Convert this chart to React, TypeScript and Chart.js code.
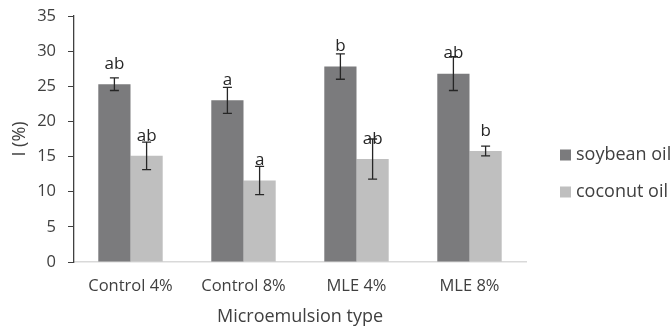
import { useEffect, useRef } from "react";
import { Chart, registerables } from "chart.js";

Chart.register(...registerables);

const categories = ["Control 4%", "Control 8%", "MLE 4%", "MLE 8%"];
const seriesNames = ["soybean oil", "coconut oil"];
const soybean = [25.3, 23.0, 27.8, 26.8];
const soybeanErr = [0.9, 1.85, 1.8, 2.4];
const coconut = [15.1, 11.6, 14.65, 15.8];
const coconutErr = [1.95, 2.0, 2.85, 0.7];
const soybeanLetters = ["ab", "a", "b", "ab"];
const coconutLetters = ["ab", "a", "ab", "b"];
const yMin = 0;
const yMax = 35;
const yStep = 5;

const colors = ["#7b7b7d", "#bfbfbf"];
const FONT = "'Open Sans', 'DejaVu Sans', sans-serif";

export default function App() {
  const ref = useRef<HTMLCanvasElement | null>(null);

  useEffect(() => {
    document.body.style.margin = "0";
    const errs = [soybeanErr, coconutErr];
    const letters = [soybeanLetters, coconutLetters];

    const annot = {
      id: "annot",
      afterDatasetsDraw(chart: any) {
        const ctx = chart.ctx;
        const ys = chart.scales.y;
        ctx.save();
        chart.data.datasets.forEach((ds: any, di: number) => {
          const meta = chart.getDatasetMeta(di);
          meta.data.forEach((el: any, i: number) => {
            const v = ds.data[i];
            const e = errs[di][i];
            const x = el.x;
            const yt = ys.getPixelForValue(v + e);
            const yb = ys.getPixelForValue(v - e);
            ctx.strokeStyle = "#262626";
            ctx.lineWidth = 1.3;
            ctx.beginPath();
            ctx.moveTo(x, yt);
            ctx.lineTo(x, yb);
            ctx.moveTo(x - 4.5, yt);
            ctx.lineTo(x + 4.5, yt);
            ctx.moveTo(x - 4.5, yb);
            ctx.lineTo(x + 4.5, yb);
            ctx.stroke();
          });
        });
        chart.data.datasets.forEach((ds: any, di: number) => {
          const meta = chart.getDatasetMeta(di);
          meta.data.forEach((el: any, i: number) => {
            ctx.fillStyle = "#262626";
            ctx.font = `17px ${FONT}`;
            ctx.textAlign = "center";
            ctx.textBaseline = "middle";
            ctx.fillText(letters[di][i], el.x, el.y - 20);
          });
        });
        ctx.restore();
      },
      afterDraw(chart: any) {
        const ctx = chart.ctx;
        ctx.save();
        const yPos = [155, 192];
        seriesNames.forEach((name, i) => {
          ctx.fillStyle = colors[i];
          ctx.fillRect(560, yPos[i] - 5.5, 11, 11);
          ctx.fillStyle = "#404040";
          ctx.font = `18px ${FONT}`;
          ctx.textAlign = "left";
          ctx.textBaseline = "middle";
          ctx.fillText(name, 576, yPos[i]);
        });
        ctx.restore();
      },
    };

    const chart = new Chart(ref.current as HTMLCanvasElement, {
      type: "bar",
      data: {
        labels: categories,
        datasets: [
          { label: seriesNames[0], data: soybean, backgroundColor: colors[0] },
          { label: seriesNames[1], data: coconut, backgroundColor: colors[1] },
        ],
      },
      options: {
        responsive: false,
        animation: false,
        layout: { padding: { left: 0, right: 146, top: 16, bottom: 0 } },
        datasets: { bar: { categoryPercentage: 0.57, barPercentage: 1 } },
        plugins: { legend: { display: false }, tooltip: { enabled: false } },
        scales: {
          x: {
            grid: { display: false, drawTicks: false },
            border: { display: true, color: "#d9d9d9", width: 1.5 },
            ticks: { color: "#404040", font: { family: FONT, size: 16.5 }, padding: 14 },
            title: {
              display: true,
              text: "Microemulsion type",
              color: "#404040",
              font: { family: FONT, size: 18 },
              padding: { top: 0, bottom: 1 },
            },
            afterFit: (s: any) => { s.height = 67; },
          },
          y: {
            min: yMin,
            max: yMax,
            ticks: { stepSize: yStep, color: "#404040", font: { family: FONT, size: 16.5 }, padding: 12 },
            grid: { display: true, drawOnChartArea: false, drawTicks: true, tickLength: 6, color: "#404040" },
            border: { display: true, color: "#404040", width: 1.3 },
            title: {
              display: true,
              text: "I (%)",
              color: "#404040",
              font: { family: FONT, size: 18 },
              padding: { top: 9, bottom: 0 },
            },
            afterFit: (s: any) => {
              s.width = 74;
              s.paddingTop = 8;
              s.paddingBottom = 8;
            },
          },
        },
      },
      plugins: [annot],
    });
    return () => chart.destroy();
  }, []);

  return (
    <div style={{ width: 672, height: 329 }}>
      <canvas ref={ref} width={672} height={329} />
    </div>
  );
}
